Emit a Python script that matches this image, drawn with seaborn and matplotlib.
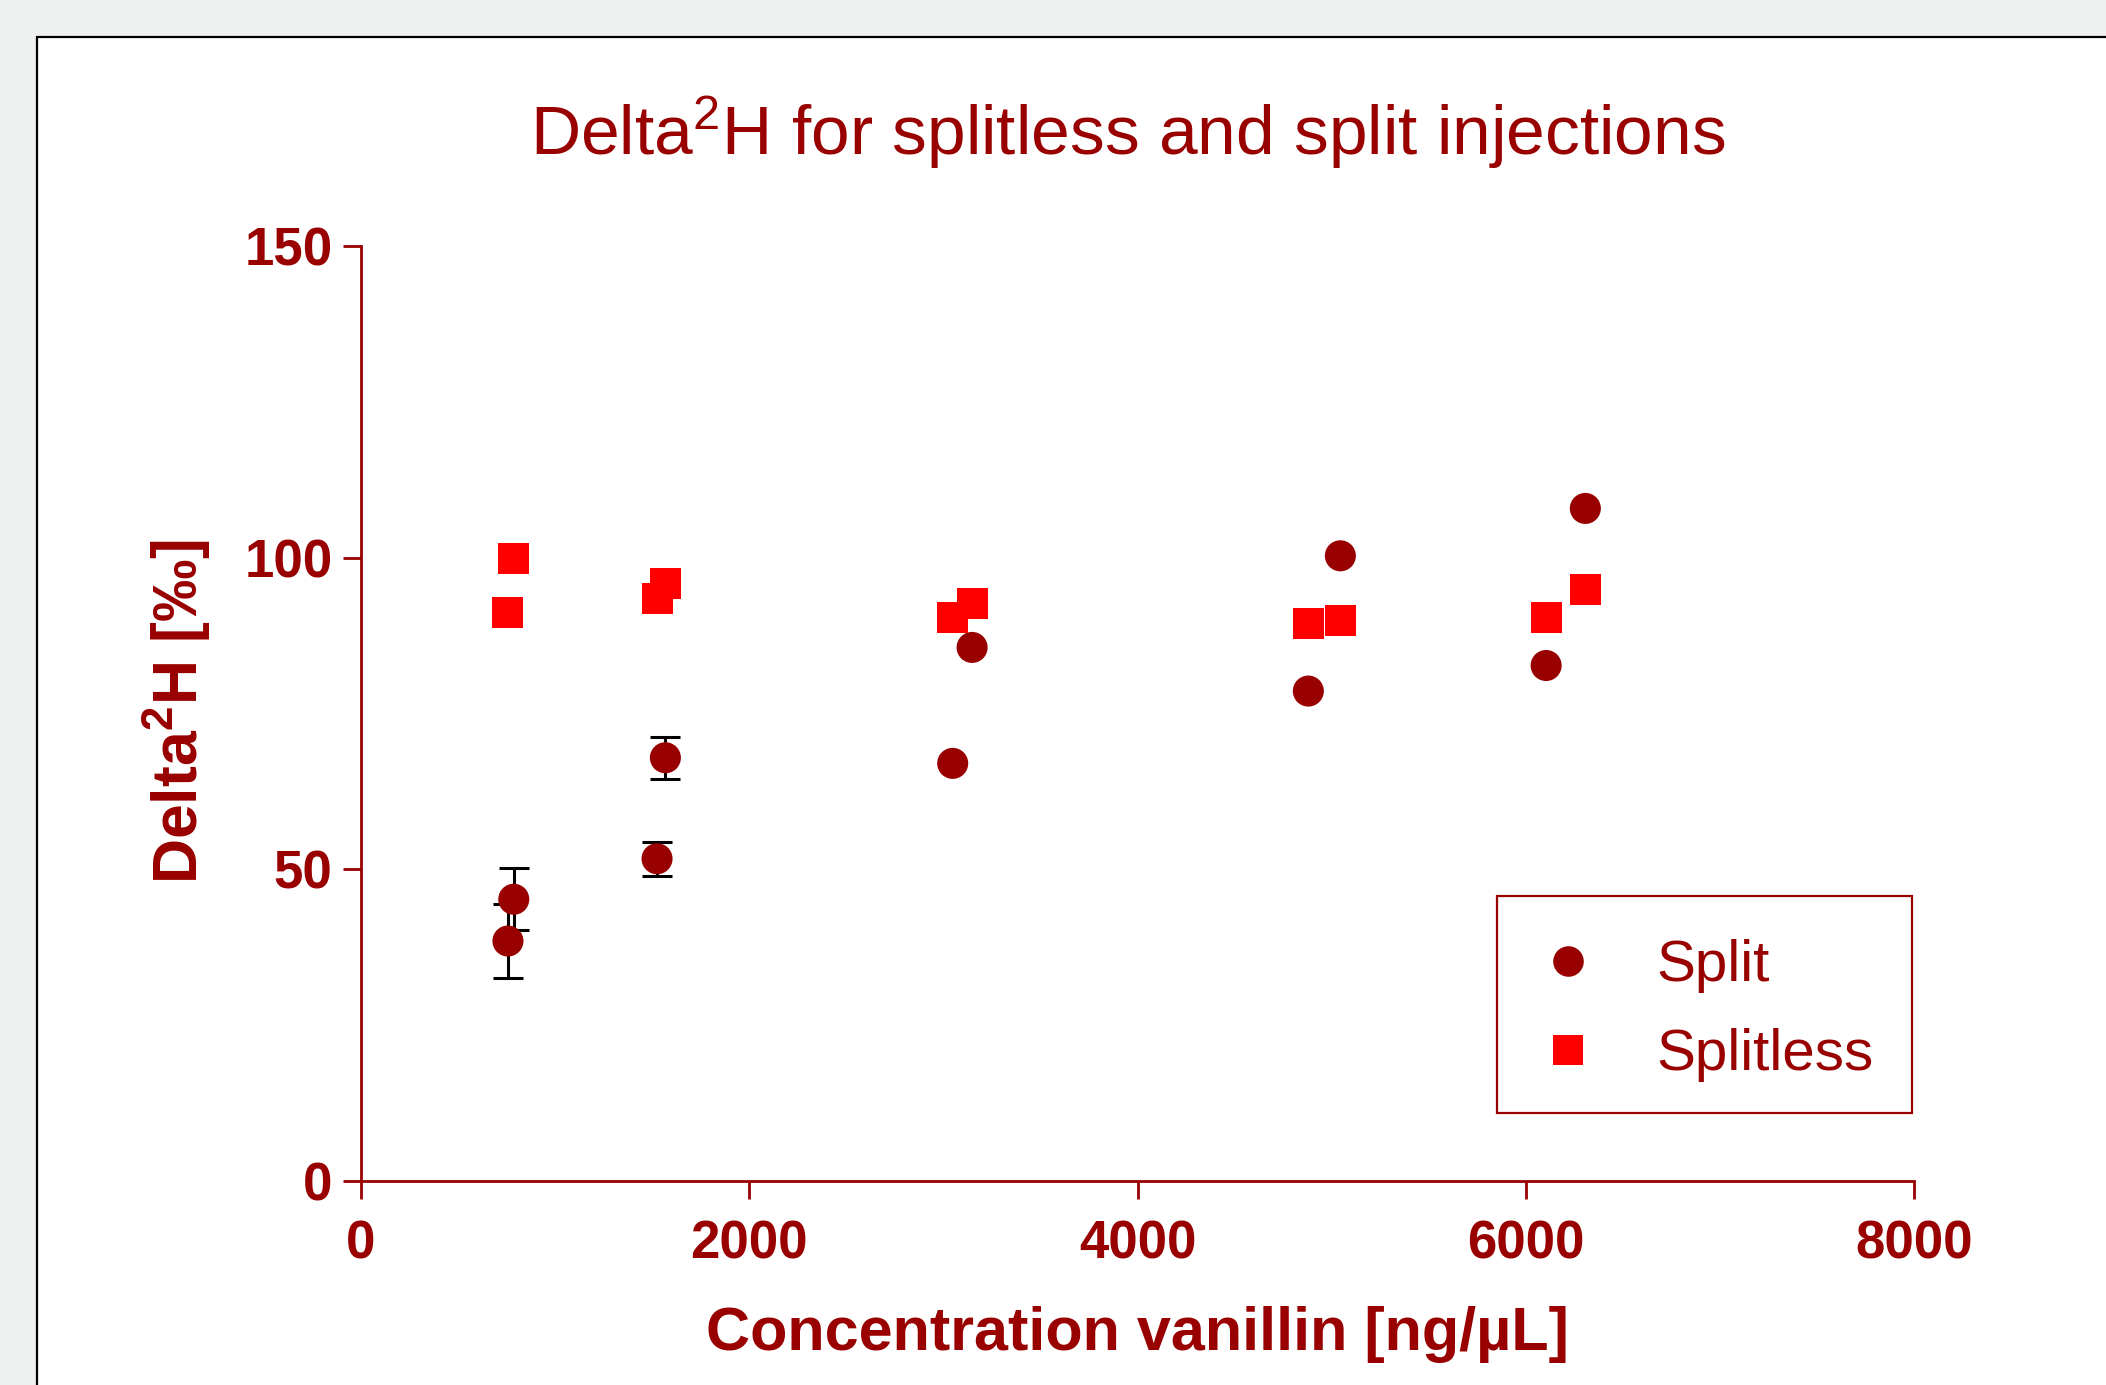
import matplotlib
matplotlib.use("Agg")
import matplotlib.pyplot as plt
from matplotlib import font_manager
from matplotlib.patches import Rectangle
from matplotlib.lines import Line2D
import numpy as np
import pandas as pd
import seaborn as sns

# Concentrations of vanillin (ng/µL) at which both injection modes were measured
concentration = [757, 787, 1525, 1568, 3048, 3148, 4880, 5045, 6105, 6307]

# Delta 2H values (permil) for each injection mode
split_delta = [38.5, 45.2, 51.7, 67.9, 67.0, 85.6, 78.6, 100.3, 82.7, 107.9]
split_err = [5.9, 5.0, 2.7, 3.4, 0, 0, 0, 0, 0, 0]
splitless_delta = [91.2, 99.9, 93.5, 95.8, 90.4, 92.7, 89.5, 89.9, 90.4, 94.9]

series_names = ["Split", "Splitless"]
x_ticks = [0, 2000, 4000, 6000, 8000]
y_ticks = [0, 50, 100, 150]

DARK_RED = "#990000"
BRIGHT_RED = "#ff0000"

sns.set_style("white")
names = {f.name for f in font_manager.fontManager.ttflist}
narrow = "Liberation Sans Narrow" if "Liberation Sans Narrow" in names else "Liberation Sans"
plt.rcParams["font.family"] = ["Liberation Sans", "DejaVu Sans"]
plt.rcParams["mathtext.default"] = "regular"

df = pd.DataFrame({
    "conc": concentration * 2,
    "delta": split_delta + splitless_delta,
    "mode": [series_names[0]] * len(concentration) + [series_names[1]] * len(concentration),
})

W, H = 2106, 1385
fig = plt.figure(figsize=(W / 100, H / 100), dpi=100)
fig.patch.set_facecolor("#eff1f0")

# white panel with a thin black frame, running off the right and bottom edges
panel = Rectangle((37 / W, -0.2), 1.2, 1 - 37 / H + 0.2,
                  transform=fig.transFigure, facecolor="white",
                  edgecolor="black", linewidth=1.6, zorder=-5)
fig.add_artist(panel)

ax = fig.add_axes([361 / W, 1 - 1181 / H, (1914 - 361) / W, (1181 - 246) / H])
ax.set_zorder(1)
ax.set_facecolor("none")

# error bars for the split injections (drawn beneath the markers)
sx = np.array(concentration)
sy = np.array(split_delta)
se = np.array(split_err)
mask = se > 0
ax.errorbar(sx[mask], sy[mask], yerr=se[mask], fmt="none", ecolor="black",
            elinewidth=2.2, capsize=10.5, capthick=2.2, zorder=2)

sns.scatterplot(data=df, x="conc", y="delta", hue="mode", style="mode",
                palette={"Split": DARK_RED, "Splitless": BRIGHT_RED},
                markers={"Split": "o", "Splitless": "s"},
                s=500, linewidth=0, ax=ax, zorder=3, legend=False)

ax.set_xlim(0, 8000)
ax.set_ylim(0, 150)
ax.set_xticks(x_ticks)
ax.set_yticks(y_ticks)
ax.set_xlabel("")
ax.set_ylabel("")
for side in ["top", "right"]:
    ax.spines[side].set_visible(False)
for side in ["left", "bottom"]:
    ax.spines[side].set_color(DARK_RED)
    ax.spines[side].set_linewidth(2.0)
ax.tick_params(axis="both", direction="out", length=13, width=2.0,
               color=DARK_RED, labelcolor=DARK_RED, bottom=True, left=True)
ax.tick_params(axis="x", pad=15)
ax.tick_params(axis="y", pad=7.5)
tick_size = 42 if narrow == "Liberation Sans Narrow" else 38
for lab in ax.get_xticklabels() + ax.get_yticklabels():
    lab.set_fontfamily([narrow, "DejaVu Sans"])
    lab.set_fontweight("bold")
    lab.set_fontsize(tick_size)

fig.text(1128 / W, 1 - 155 / H, "Delta$^2$H for splitless and split injections",
         ha="center", va="baseline", fontsize=50, color=DARK_RED)
fig.text(1137 / W, 1 - 1350 / H, "Concentration vanillin [ng/µL]",
         ha="center", va="baseline", fontsize=44, fontweight="bold", color=DARK_RED,
         family=[narrow, "DejaVu Sans"])
fig.text(177 / W, 1 - 712 / H, "Delta$^2$H [‰]", rotation=90,
         ha="center", va="center", fontsize=45, fontweight="bold", color=DARK_RED)

# legend box
legend_box = Rectangle((1497 / W, 1 - 1113 / H), (1912 - 1497) / W, (1113 - 896) / H,
                       transform=fig.transFigure, facecolor="white",
                       edgecolor=DARK_RED, linewidth=1.6, zorder=2)
fig.add_artist(legend_box)

handles = [
    Line2D([], [], linestyle="none", marker="o", markersize=22,
           markerfacecolor=DARK_RED, markeredgewidth=0, label=series_names[0]),
    Line2D([], [], linestyle="none", marker="s", markersize=22,
           markerfacecolor=BRIGHT_RED, markeredgewidth=0, label=series_names[1]),
]
leg = fig.legend(handles=handles, loc="lower right",
                 bbox_to_anchor=(1912 / W, 1 - 1120 / H),
                 bbox_transform=fig.transFigure, borderaxespad=0,
                 fontsize=42, frameon=False,
                 borderpad=0.65, handlelength=1.23,
                 handletextpad=0.91, labelspacing=0.6)
leg.set_zorder(3)
for t in leg.get_texts():
    t.set_color(DARK_RED)

fig.savefig("out.png", dpi=100, facecolor=fig.get_facecolor())
